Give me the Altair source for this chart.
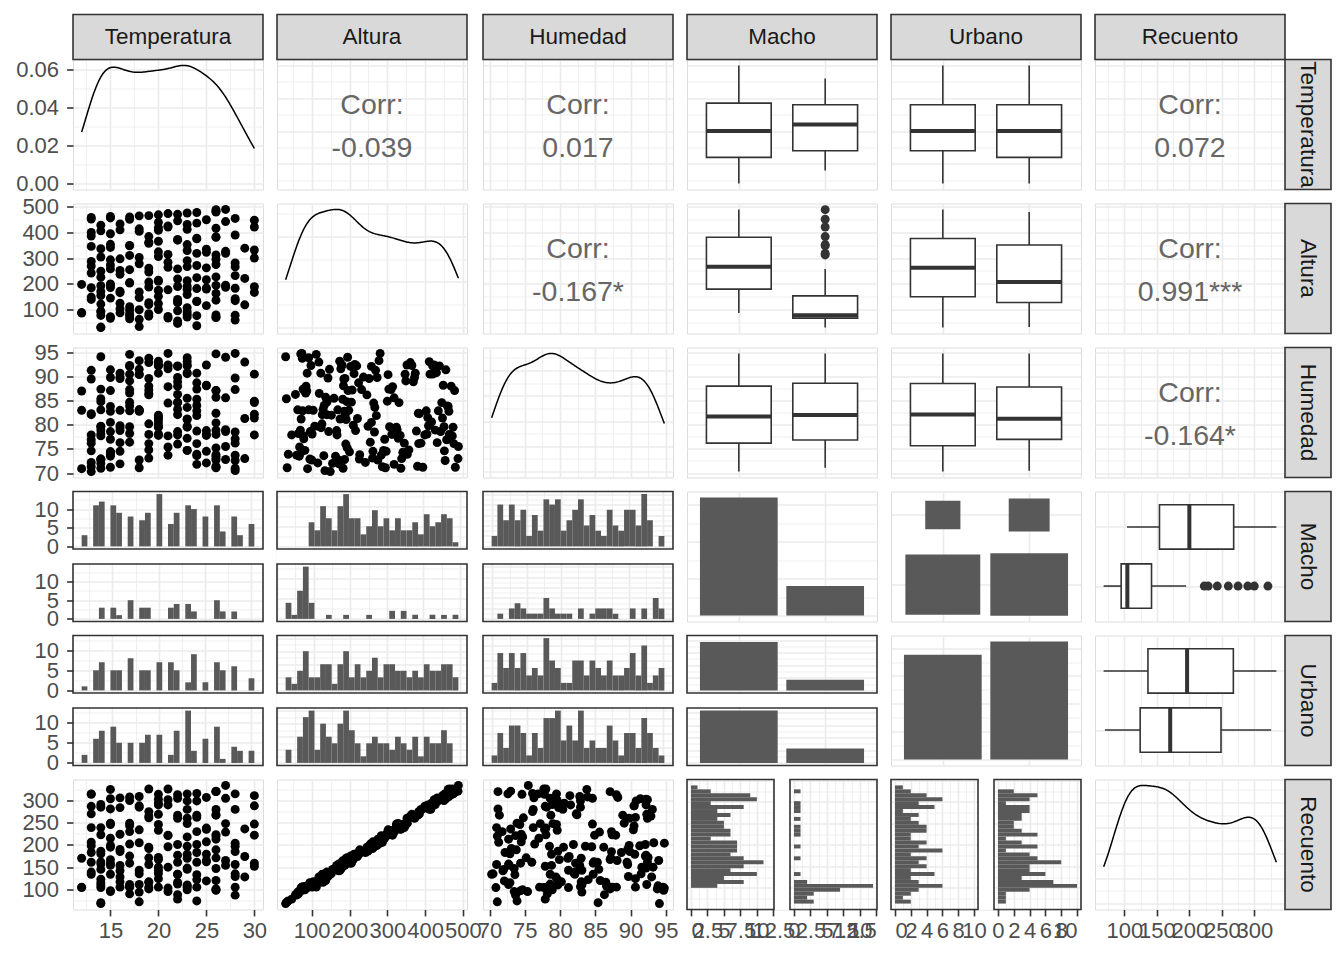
import math
import altair as alt
import numpy as np
import pandas as pd

# ------------------------------------------------------------------
# Data (values estimated from the reference figure), one block per
# Macho x Urbano combination.
# ------------------------------------------------------------------
macho_levels = ["No", "Sí"]
urbano_levels = ["No", "Sí"]

temp_no_no = [12, 13, 13, 13, 13, 13, 14, 14, 14, 14, 14, 14, 15, 15, 15, 15, 16, 16, 16, 16, 16,
              17, 17, 17, 17, 17, 18, 18, 18, 18, 19, 19, 19, 19, 20, 20, 20, 20, 20, 20, 20,
              21, 21, 21, 21, 21, 22, 22, 22, 23, 23, 24, 24, 24, 24, 24, 24, 24, 24, 25, 25,
              26, 26, 26, 26, 26, 27, 27, 27, 27, 28, 28, 28, 28, 30, 30, 30]
alt_no_no = [89, 242, 399, 149, 287, 451, 193, 336, 95, 249, 405, 155, 293, 455, 196, 341, 104, 252,
             409, 166, 297, 459, 203, 349, 112, 255, 413, 169, 302, 463, 207, 357, 120, 261, 417,
             174, 306, 467, 214, 365, 124, 264, 424, 177, 314, 472, 219, 372, 128, 267, 430, 182,
             318, 476, 224, 377, 132, 271, 435, 184, 322, 480, 227, 382, 137, 275, 441, 187, 326,
             488, 232, 389, 143, 281, 446, 189, 331]
hum_no_no = [70.9, 72.2, 77.9, 70.3, 71.3, 74.6, 84.8, 71.0, 72.9, 79.7, 78.1, 72.0, 77.0, 91.4,
             87.1, 74.3, 83.0, 89.6, 79.8, 78.8, 74.5, 83.9, 92.1, 89.1, 94.6, 76.4, 90.5, 83.1,
             90.4, 82.8, 87.2, 74.8, 86.5, 73.1, 80.6, 93.2, 79.6, 77.8, 92.5, 92.3, 90.7, 84.5,
             92.4, 91.6, 87.9, 77.7, 92.2, 89.8, 82.1, 83.6, 90.8, 85.3, 71.8, 76.1, 88.7, 78.7,
             73.6, 81.9, 82.9, 88.1, 78.0, 71.2, 73.8, 82.4, 85.7, 72.7, 78.6, 72.8, 79.0, 75.5,
             87.3, 76.2, 89.7, 94.8, 81.4, 82.2, 84.6]
rec_no_no = [104, 183, 287, 134, 206, 314, 162, 239, 115, 186, 285, 145, 215, 304, 167, 246, 117,
             190, 284, 154, 224, 308, 175, 249, 105, 202, 288, 143, 234, 309, 171, 261, 116, 192,
             294, 150, 233, 314, 172, 269, 124, 196, 302, 150, 222, 326, 177, 260, 134, 197, 299,
             161, 230, 316, 183, 267, 133, 201, 299, 165, 238, 320, 189, 268, 120, 213, 305, 154,
             248, 334, 185, 280, 129, 204, 311, 159, 247]

temp_no_si = [12, 12, 13, 13, 13, 13, 13, 13, 14, 14, 14, 14, 14, 14, 15, 15, 15, 15, 15, 15, 15,
              16, 16, 16, 16, 17, 17, 17, 18, 18, 18, 19, 19, 19, 19, 19, 20, 20, 20, 20, 20, 20,
              20, 21, 22, 22, 22, 22, 22, 22, 23, 23, 23, 23, 23, 23, 23, 23, 23, 24, 24, 25, 25,
              25, 25, 25, 25, 26, 26, 26, 26, 26, 26, 28, 28, 28, 28, 29, 29, 29, 30, 30, 30]
alt_no_si = [87, 198, 385, 140, 269, 457, 185, 345, 122, 226, 427, 171, 304, 92, 200, 394, 145, 273,
             461, 186, 353, 125, 237, 432, 172, 310, 98, 205, 403, 147, 278, 464, 188, 361, 127,
             246, 438, 175, 324, 101, 210, 407, 152, 284, 469, 190, 369, 130, 258, 444, 179, 329,
             108, 212, 411, 159, 290, 474, 191, 374, 133, 262, 448, 180, 334, 116, 216, 415, 163,
             295, 478, 194, 380, 135, 266, 453, 183, 338, 119, 221, 420, 167, 300]
hum_no_si = [87.0, 83.0, 82.3, 82.1, 91.3, 76.9, 89.5, 76.2, 79.6, 72.9, 78.9, 72.7, 87.4, 83.1,
             74.4, 71.2, 78.6, 89.8, 83.8, 82.8, 73.9, 79.4, 89.9, 76.3, 71.9, 87.3, 92.3, 84.7,
             82.9, 91.5, 93.3, 78.0, 89.6, 92.9, 80.2, 86.2, 92.2, 81.2, 79.5, 78.1, 79.9, 81.5,
             82.0, 73.7, 88.0, 76.0, 88.9, 83.2, 92.1, 84.6, 92.2, 77.2, 79.7, 90.6, 93.1, 85.5,
             74.7, 79.5, 81.1, 90.7, 84.0, 74.5, 88.2, 92.4, 77.8, 72.1, 78.8, 80.4, 73.5, 71.1,
             87.1, 75.2, 71.4, 70.5, 78.5, 72.6, 71.0, 73.0, 93.0, 81.3, 90.5, 77.9, 84.9]
rec_no_si = [105, 170, 270, 139, 198, 315, 161, 239, 123, 180, 291, 157, 223, 110, 159, 281, 134,
             199, 325, 154, 249, 128, 185, 306, 142, 230, 111, 159, 285, 135, 205, 326, 156, 265,
             117, 195, 303, 143, 246, 105, 167, 290, 136, 221, 313, 161, 267, 116, 201, 305, 148,
             248, 110, 179, 280, 145, 218, 315, 170, 262, 122, 207, 307, 162, 235, 119, 179, 280,
             147, 220, 320, 171, 267, 135, 197, 315, 156, 236, 128, 174, 288, 152, 222]

temp_si_no = [14, 15, 17, 17, 17, 18, 19, 21, 21, 22, 22, 24, 26, 26, 27, 28, 28]
alt_si_no = [31, 73, 347, 65, 84, 35, 75, 420, 68, 140, 47, 77, 487, 71, 318, 60, 79]
hum_si_no = [94.1, 74.4, 90.5, 78.2, 86.6, 71.1, 93.8, 92.2, 75.4, 84.7, 77.9, 87.4, 73.0, 94.7,
             85.6, 73.7, 77.1]
rec_si_no = [68, 97, 243, 90, 107, 72, 101, 290, 95, 134, 78, 105, 321, 98, 229, 87, 105]

temp_si_si = [14, 14, 15, 15, 16, 17, 17, 18, 18, 19, 19, 21, 22, 22, 23, 23, 23, 23, 24, 26, 26,
              26, 27]
alt_si_si = [33, 78, 258, 67, 88, 450, 76, 100, 63, 85, 383, 74, 96, 57, 82, 352, 72, 92, 38, 80,
             312, 70, 195]
hum_si_si = [85.4, 77.7, 80.5, 73.5, 90.7, 79.6, 82.9, 72.7, 83.1, 88.0, 76.1, 94.8, 78.6, 86.3,
             74.7, 92.4, 81.2, 93.9, 73.9, 87.1, 78.0, 78.9, 94.0]
rec_si_si = [70, 104, 195, 95, 105, 300, 106, 111, 94, 105, 275, 103, 112, 88, 99, 260, 104, 108,
             74, 101, 223, 99, 165]

corr_labels = {
    ("Temperatura", "Altura"): "-0.039",
    ("Temperatura", "Humedad"): "0.017",
    ("Temperatura", "Recuento"): "0.072",
    ("Altura", "Humedad"): "-0.167*",
    ("Altura", "Recuento"): "0.991***",
    ("Humedad", "Recuento"): "-0.164*",
}
var_names = ["Temperatura", "Altura", "Humedad", "Macho", "Urbano", "Recuento"]

cells = [
    ("No", "No", temp_no_no, alt_no_no, hum_no_no, rec_no_no),
    ("No", "Sí", temp_no_si, alt_no_si, hum_no_si, rec_no_si),
    ("Sí", "No", temp_si_no, alt_si_no, hum_si_no, rec_si_no),
    ("Sí", "Sí", temp_si_si, alt_si_si, hum_si_si, rec_si_si),
]
frames = []
for m, u, t, a, h, r in cells:
    frames.append(pd.DataFrame({"Temperatura": t, "Altura": a, "Humedad": h, "Recuento": r,
                                "Macho": m, "Urbano": u}))
df = pd.concat(frames, ignore_index=True)
df["Macho_i"] = df["Macho"].map({lv: i + 1 for i, lv in enumerate(macho_levels)})
df["Urbano_i"] = df["Urbano"].map({lv: i + 1 for i, lv in enumerate(urbano_levels)})

# ------------------------------------------------------------------
# Layout / style
# ------------------------------------------------------------------
W, H = 190, 130
STRIP_T, STRIP_R = 45, 46
SUB_GAP_V, SUB_GAP_H = 15, 16
SUB_H = (H - SUB_GAP_V) / 2
SUB_W = (W - SUB_GAP_H) / 2
# invisible frame round every panel: it fixes the grid pitch
PAD_L, PAD_T, PAD_R, PAD_B = 12, 12, 12, 12
TOP_FIX = 2.5
FONT = "Liberation Sans"
LBL = 22
GRID_C = "#EBEBEB"
DARK = "#333333"
BAR = "#595959"
CORR_C = "#666666"
EXT_Y, EXT_X = 59, 36
PT = 80

CONT_STEP = {"Temperatura": 5, "Altura": 100, "Humedad": 5, "Recuento": 50}
CAT_POS = {"Macho": "Macho_i", "Urbano": "Urbano_i"}
CAT_LEVELS = {"Macho": macho_levels, "Urbano": urbano_levels}
DISC_DOM = [0.4, 2.6]
ONE = pd.DataFrame({"k": [0]})


def expand(lo, hi, f=0.05):
    s = hi - lo
    return [lo - f * s, hi + f * s]


def cont_dom(v):
    return expand(float(df[v].min()), float(df[v].max()))


def hist_bins(v):
    lo, hi = float(df[v].min()), float(df[v].max())
    w = (hi - lo) / 29
    ext = [lo - w / 2, hi + w / 2]
    edges = ext[0] + w * np.arange(31)
    return w, ext, edges


def hist_max(v, cat):
    w, ext, edges = hist_bins(v)
    return max(int(np.histogram(df.loc[df[cat] == lv, v], bins=edges)[0].max())
               for lv in CAT_LEVELS[cat])


def nice_step(m):
    for e in range(-6, 5):
        for b in (1, 2, 2.5, 5):
            s = b * 10 ** e
            if m / s <= 5.05:
                return s
    return 10 ** 5


def nrd0(x):
    x = np.asarray(x, float)
    q75, q25 = np.percentile(x, [75, 25])
    return 0.9 * min(x.std(ddof=1), (q75 - q25) / 1.34) * len(x) ** -0.2


def kde_max(x, bw):
    x = np.asarray(x, float)
    g = np.linspace(x.min(), x.max(), 200)
    d = np.exp(-0.5 * ((g[:, None] - x[None, :]) / bw) ** 2).sum(1)
    d /= len(x) * bw * math.sqrt(2 * math.pi)
    return float(d.max())


BW = {v: float(nrd0(df[v])) for v in CONT_STEP}
DMAX = {v: kde_max(df[v], BW[v]) for v in CONT_STEP}


def lin(dom, reverse=False):
    kw = dict(domain=[float(d) for d in dom], nice=False, zero=False)
    if reverse:
        kw["reverse"] = True
    return alt.Scale(**kw)


def tick_values(dom, step):
    k0 = math.ceil(dom[0] / step - 1e-9)
    k1 = math.floor(dom[1] / step + 1e-9)
    vals = [k * step for k in range(k0, k1 + 1)]
    vals += [(k + 0.5) * step for k in range(k0 - 1, k1 + 1)
             if dom[0] <= (k + 0.5) * step <= dom[1]]
    return sorted(round(v, 10) for v in vals)


def make_axis(values, step, show, orient, fmt="~r", vexpr="datum.value", flush=False):
    v = f"(round(({vexpr}) * 1000000) / 1000000)"
    test = f"abs({v} / {step} - round({v} / {step})) < 0.000001"
    kw = dict(values=values, grid=True, gridColor=GRID_C,
              gridWidth={"condition": {"test": test, "value": 1.6}, "value": 0.8},
              domain=False, title=None)
    if show:
        left = orient == "left"
        kw.update(labels=True, ticks=True, tickColor=DARK, tickSize=6.4, tickWidth=1.6,
                  tickOpacity={"condition": {"test": test, "value": 1}, "value": 0},
                  labelExpr=f"({test}) ? format({v}, '{fmt}') : ''",
                  labelFont=FONT, labelFontSize=LBL, labelColor="#4D4D4D",
                  labelOverlap=False, labelFlush=flush,
                  labelPadding=8 if left else 5,
                  minExtent=EXT_Y if left else EXT_X,
                  maxExtent=EXT_Y if left else EXT_X)
    else:
        kw.update(labels=False, ticks=False, minExtent=0, maxExtent=0)
    return alt.Axis(**kw)


def cont_axis(dom, step, show, orient, fmt="~r"):
    return make_axis(tick_values(dom, step), step, show, orient, fmt)


def disc_axis():
    return make_axis([1, 2], 1, False, "left")


def stacked(m, sub_px, gap_px):
    """Two stacked sub-panels sharing one count scale (emulated facet)."""
    c0, c1 = -0.05 * m, 1.05 * m
    S = c1 - c0
    g = gap_px * S / sub_px
    shift = S + g
    return c0, c1, g, shift, [c0, c1 + shift]


def stacked_axis(step, show, orient, c0, c1, g, shift, flush=False):
    base = tick_values([c0, c1], step)
    vals = base + [round(v + shift, 10) for v in base]
    vexpr = f"(datum.value > {c1 + g / 2} ? datum.value - {shift} : datum.value)"
    return make_axis(vals, step, show, orient, vexpr=vexpr, flush=flush)


def frames_v():
    gap = alt.Chart(ONE).mark_rect(fill="white").encode(
        x=alt.value(0), x2=alt.value(W), y=alt.value(SUB_H + 1), y2=alt.value(SUB_H + SUB_GAP_V - 1))
    b1 = alt.Chart(ONE).mark_rect(fillOpacity=0, stroke=DARK, strokeWidth=1.6).encode(
        x=alt.value(0), x2=alt.value(W), y=alt.value(0), y2=alt.value(SUB_H))
    b2 = alt.Chart(ONE).mark_rect(fillOpacity=0, stroke=DARK, strokeWidth=1.6).encode(
        x=alt.value(0), x2=alt.value(W), y=alt.value(SUB_H + SUB_GAP_V), y2=alt.value(H))
    return [gap, b1, b2]


def frames_h():
    gap = alt.Chart(ONE).mark_rect(fill="white").encode(
        x=alt.value(SUB_W + 1), x2=alt.value(SUB_W + SUB_GAP_H - 1), y=alt.value(0), y2=alt.value(H))
    b1 = alt.Chart(ONE).mark_rect(fillOpacity=0, stroke=DARK, strokeWidth=1.6).encode(
        x=alt.value(0), x2=alt.value(SUB_W), y=alt.value(0), y2=alt.value(H))
    b2 = alt.Chart(ONE).mark_rect(fillOpacity=0, stroke=DARK, strokeWidth=1.6).encode(
        x=alt.value(SUB_W + SUB_GAP_H), x2=alt.value(W), y=alt.value(0), y2=alt.value(H))
    return [gap, b1, b2]


def spacer():
    return alt.Chart(ONE).mark_rect(opacity=0).encode(
        x=alt.value(-PAD_L), x2=alt.value(W + PAD_R), y=alt.value(-PAD_T), y2=alt.value(H + PAD_B))


# ------------------------------------------------------------------
# Panel builders (each returns a list of layers)
# ------------------------------------------------------------------
def density_panel(v, sx, sy):
    lo, hi = float(df[v].min()), float(df[v].max())
    dmax = DMAX[v]
    ydom = [-0.05 * dmax, 1.05 * dmax]
    ystep = 0.02 if v == "Temperatura" else nice_step(dmax)
    xdom = cont_dom(v)
    return [alt.Chart(df).transform_density(
        v, as_=[v, "density"], bandwidth=BW[v], extent=[lo, hi], steps=200
    ).mark_line(color="black", strokeWidth=1.5).encode(
        x=alt.X(f"{v}:Q", scale=lin(xdom), axis=cont_axis(xdom, CONT_STEP[v], sx, "bottom")),
        y=alt.Y("density:Q", scale=lin(ydom), axis=cont_axis(ydom, ystep, sy, "left", ".2f")),
    )]


def scatter_panel(xv, yv, sx, sy):
    xd, yd = cont_dom(xv), cont_dom(yv)
    return [alt.Chart(df).mark_circle(size=PT, color="black", opacity=1).encode(
        x=alt.X(f"{xv}:Q", scale=lin(xd), axis=cont_axis(xd, CONT_STEP[xv], sx, "bottom")),
        y=alt.Y(f"{yv}:Q", scale=lin(yd), axis=cont_axis(yd, CONT_STEP[yv], sy, "left")),
    )]


def corr_panel(xv, yv, label):
    xd, yd = cont_dom(xv), cont_dom(yv)
    base = alt.Chart(df).mark_point(opacity=0).encode(
        x=alt.X(f"{xv}:Q", scale=lin(xd), axis=cont_axis(xd, CONT_STEP[xv], False, "bottom")),
        y=alt.Y(f"{yv}:Q", scale=lin(yd), axis=cont_axis(yd, CONT_STEP[yv], False, "left")),
    )
    t1 = alt.Chart(pd.DataFrame({"t": ["Corr:"]})).mark_text(
        font=FONT, fontSize=28.5, color=CORR_C).encode(
        text="t:N", x=alt.value(W / 2), y=alt.value(0.35 * H))
    t2 = alt.Chart(pd.DataFrame({"t": [label]})).mark_text(
        font=FONT, fontSize=28.5, color=CORR_C).encode(
        text="t:N", x=alt.value(W / 2), y=alt.value(0.677 * H))
    return [base, t1, t2]


def box_panel(var, cat, horizontal, show_v):
    pos = CAT_POS[cat]
    vdom = cont_dom(var)
    vscale = lin(vdom)
    vaxis = cont_axis(vdom, CONT_STEP[var], show_v, "bottom" if horizontal else "left")
    cscale = lin(DISC_DOM, reverse=horizontal)
    caxis = disc_axis()
    vk, ck = ("x", "y") if horizontal else ("y", "x")
    ch1 = {"x": alt.X, "y": alt.Y}
    ch2 = {"x": alt.X2, "y": alt.Y2}

    def E(v=None, v2=None, c=None, c2=None):
        e = {}
        if v:
            e[vk] = ch1[vk](f"{v}:Q", scale=vscale, axis=vaxis)
        if v2:
            e[vk + "2"] = ch2[vk](v2)
        if c:
            e[ck] = ch1[ck](f"{c}:Q", scale=cscale, axis=caxis)
        if c2:
            e[ck + "2"] = ch2[ck](c2)
        return e

    base = alt.Chart(df).transform_joinaggregate(
        q1=f"q1({var})", q3=f"q3({var})", med=f"median({var})", groupby=[pos]
    ).transform_calculate(
        lo="datum.q1 - 1.5 * (datum.q3 - datum.q1)",
        hi="datum.q3 + 1.5 * (datum.q3 - datum.q1)",
    )
    stats = base.transform_filter(
        f"datum.{var} >= datum.lo && datum.{var} <= datum.hi"
    ).transform_aggregate(
        wmin=f"min({var})", wmax=f"max({var})", q1="min(q1)", q3="min(q3)", med="min(med)",
        groupby=[pos]
    ).transform_calculate(p0=f"datum.{pos} - 0.375", p1=f"datum.{pos} + 0.375")
    lower = stats.mark_rule(color=DARK, strokeWidth=1.6).encode(**E(v="wmin", v2="q1", c=pos))
    upper = stats.mark_rule(color=DARK, strokeWidth=1.6).encode(**E(v="q3", v2="wmax", c=pos))
    box = stats.mark_rect(fill="white", stroke=DARK, strokeWidth=1.6).encode(
        **E(v="q1", v2="q3", c="p0", c2="p1"))
    med = stats.mark_rule(color=DARK, strokeWidth=4).encode(**E(v="med", c="p0", c2="p1"))
    out = base.transform_filter(
        f"datum.{var} < datum.lo || datum.{var} > datum.hi"
    ).mark_circle(size=PT, color=DARK, opacity=1).encode(**E(v=var, c=pos))
    return [lower, upper, box, med, out]


def binned(var, cat):
    """Histogram counts of var per level of cat (30 bins, as ggplot)."""
    pos = CAT_POS[cat]
    w, ext, edges = hist_bins(var)
    b0, b1 = f"{var}_{cat}_b0", f"{var}_{cat}_b1"
    ch = alt.Chart(df).transform_bin(
        [b0, b1], field=var,
        bin=alt.Bin(extent=[float(e) for e in ext], step=float(w), nice=False)
    ).transform_aggregate(n="count()", groupby=[b0, b1, pos])
    return ch, b0, b1, pos, ext


def facethist_rows(var, cat, sy):
    """Histogram of var split by cat into two stacked sub-panels (level 1 on top)."""
    ch, b0, b1, pos, ext = binned(var, cat)
    xdom = expand(*ext)
    m = hist_max(var, cat)
    c0, c1, g, shift, ydom = stacked(m, SUB_H, SUB_GAP_V)
    ystep = 5 if sy else nice_step(m)
    bars = ch.transform_calculate(
        y0=f"datum.{pos} == 1 ? {shift} : 0", y1=f"datum.n + (datum.{pos} == 1 ? {shift} : 0)"
    ).mark_rect(color=BAR).encode(
        x=alt.X(f"{b0}:Q", scale=lin(xdom), axis=cont_axis(xdom, CONT_STEP[var], False, "bottom")),
        x2=f"{b1}",
        y=alt.Y("y0:Q", scale=lin(ydom), axis=stacked_axis(ystep, sy, "left", c0, c1, g, shift)),
        y2="y1",
    )
    return [bars] + frames_v()


def facethist_cols(var, cat, sx):
    """Horizontal histogram of var split by cat into two side-by-side sub-panels."""
    ch, b0, b1, pos, ext = binned(var, cat)
    ydom = expand(*ext)
    m = hist_max(var, cat)
    c0, c1, g, shift, xdom = stacked(m, SUB_W, SUB_GAP_H)
    xstep = (2.5 if cat == "Macho" else 2) if sx else nice_step(m)
    bars = ch.transform_calculate(
        x0=f"datum.{pos} == 2 ? {shift} : 0", x1=f"datum.n + (datum.{pos} == 2 ? {shift} : 0)"
    ).mark_rect(color=BAR).encode(
        y=alt.Y(f"{b0}:Q", scale=lin(ydom), axis=cont_axis(ydom, CONT_STEP[var], False, "left")),
        y2=f"{b1}",
        x=alt.X("x0:Q", scale=lin(xdom),
                axis=stacked_axis(xstep, sx, "bottom", c0, c1, g, shift, flush=5)),
        x2="x1",
    )
    return [bars] + frames_h()


def bar_diag(cat):
    pos = CAT_POS[cat]
    m = int(df[pos].value_counts().max())
    ydom = [-0.05 * m, 1.05 * m]
    return [alt.Chart(df).transform_aggregate(n="count()", groupby=[pos]).transform_calculate(
        x0=f"datum.{pos} - 0.45", x1=f"datum.{pos} + 0.45"
    ).mark_rect(color=BAR).encode(
        x=alt.X("x0:Q", scale=lin(DISC_DOM), axis=disc_axis()), x2="x1",
        y=alt.Y("n:Q", scale=lin(ydom), axis=cont_axis(ydom, nice_step(m), False, "left")),
        y2=alt.datum(0),
    )]


def count_panel():
    ydom = [0.468, 2.338]
    return [alt.Chart(df).transform_aggregate(
        n="count()", groupby=["Macho_i", "Urbano_i"]
    ).transform_joinaggregate(nmax="max(n)").transform_calculate(
        s="0.45 * sqrt(datum.n / datum.nmax)",
        x0="datum.Urbano_i - datum.s", x1="datum.Urbano_i + datum.s",
        y0="datum.Macho_i - datum.s", y1="datum.Macho_i + datum.s",
    ).mark_rect(color=BAR).encode(
        x=alt.X("x0:Q", scale=lin(DISC_DOM), axis=disc_axis()), x2="x1",
        y=alt.Y("y0:Q", scale=lin(ydom), axis=disc_axis()), y2="y1",
    )]


def facetbar():
    m = int(df.groupby(["Macho_i", "Urbano_i"]).size().max())
    c0, c1, g, shift, ydom = stacked(m, SUB_H, SUB_GAP_V)
    bars = alt.Chart(df).transform_aggregate(
        n="count()", groupby=["Macho_i", "Urbano_i"]
    ).transform_calculate(
        x0="datum.Macho_i - 0.45", x1="datum.Macho_i + 0.45",
        y0=f"datum.Urbano_i == 1 ? {shift} : 0",
        y1=f"datum.n + (datum.Urbano_i == 1 ? {shift} : 0)",
    ).mark_rect(color=BAR).encode(
        x=alt.X("x0:Q", scale=lin(DISC_DOM), axis=disc_axis()), x2="x1",
        y=alt.Y("y0:Q", scale=lin(ydom),
                axis=stacked_axis(nice_step(m), False, "left", c0, c1, g, shift)),
        y2="y1",
    )
    return [bars] + frames_v()


def top_strip(label):
    d = pd.DataFrame({"lab": [label]})
    r = alt.Chart(d).mark_rect(fill="#D9D9D9", stroke=DARK, strokeWidth=1.6).encode(
        x=alt.value(0), x2=alt.value(W), y=alt.value(-STRIP_T), y2=alt.value(0))
    t = alt.Chart(d).mark_text(font=FONT, fontSize=22.5, color="#1A1A1A").encode(
        text="lab:N", x=alt.value(W / 2), y=alt.value(-STRIP_T / 2))
    return [r, t]


def right_strip(label):
    d = pd.DataFrame({"lab": [label]})
    r = alt.Chart(d).mark_rect(fill="#D9D9D9", stroke=DARK, strokeWidth=1.6).encode(
        x=alt.value(W), x2=alt.value(W + STRIP_R), y=alt.value(0), y2=alt.value(H))
    t = alt.Chart(d).mark_text(font=FONT, fontSize=22.5, color="#1A1A1A", angle=90).encode(
        text="lab:N", x=alt.value(W + STRIP_R / 2), y=alt.value(H / 2))
    return [r, t]


# ------------------------------------------------------------------
# Assemble the 6 x 6 matrix
# ------------------------------------------------------------------
panels = []
for r in range(6):
    for c in range(6):
        rv, cv = var_names[r], var_names[c]
        sx, sy = (r == 5), (c == 0)
        rc, cc = rv in CONT_STEP, cv in CONT_STEP
        framed = False
        if r == c:
            layers = density_panel(rv, sx, sy) if rc else bar_diag(rv)
        elif r < c:
            if rc and cc:
                layers = corr_panel(cv, rv, corr_labels[(rv, cv)])
            elif rc and not cc:
                layers = box_panel(rv, cv, horizontal=False, show_v=sy)
            elif cc and not rc:
                layers = box_panel(cv, rv, horizontal=True, show_v=sx)
            else:
                layers = count_panel()
        else:
            framed = True
            if rc and cc:
                framed = False
                layers = scatter_panel(cv, rv, sx, sy)
            elif cc and not rc:
                layers = facethist_rows(cv, rv, sy)
            elif rc and not cc:
                layers = facethist_cols(rv, cv, sx)
            else:
                layers = facetbar()
        layers = [spacer()] + layers
        if r == 0:
            layers += top_strip(cv)
        if c == 5:
            layers += right_strip(rv)
        ch = alt.layer(*layers).properties(width=W, height=H)
        if framed:
            ch = ch.properties(view=alt.ViewBackground(stroke="transparent"))
        panels.append(ch)

chart = alt.concat(
    *panels, columns=6, align="each", bounds="full",
    spacing={"row": -PAD_T, "column": -PAD_L}
).properties(
    padding={"left": 5, "top": 7 - TOP_FIX, "right": 2, "bottom": 3}
).configure_view(
    stroke=DARK, strokeWidth=1.6
).configure(font=FONT)

chart.save("out.html", embed_options={"renderer": "svg", "actions": False})
